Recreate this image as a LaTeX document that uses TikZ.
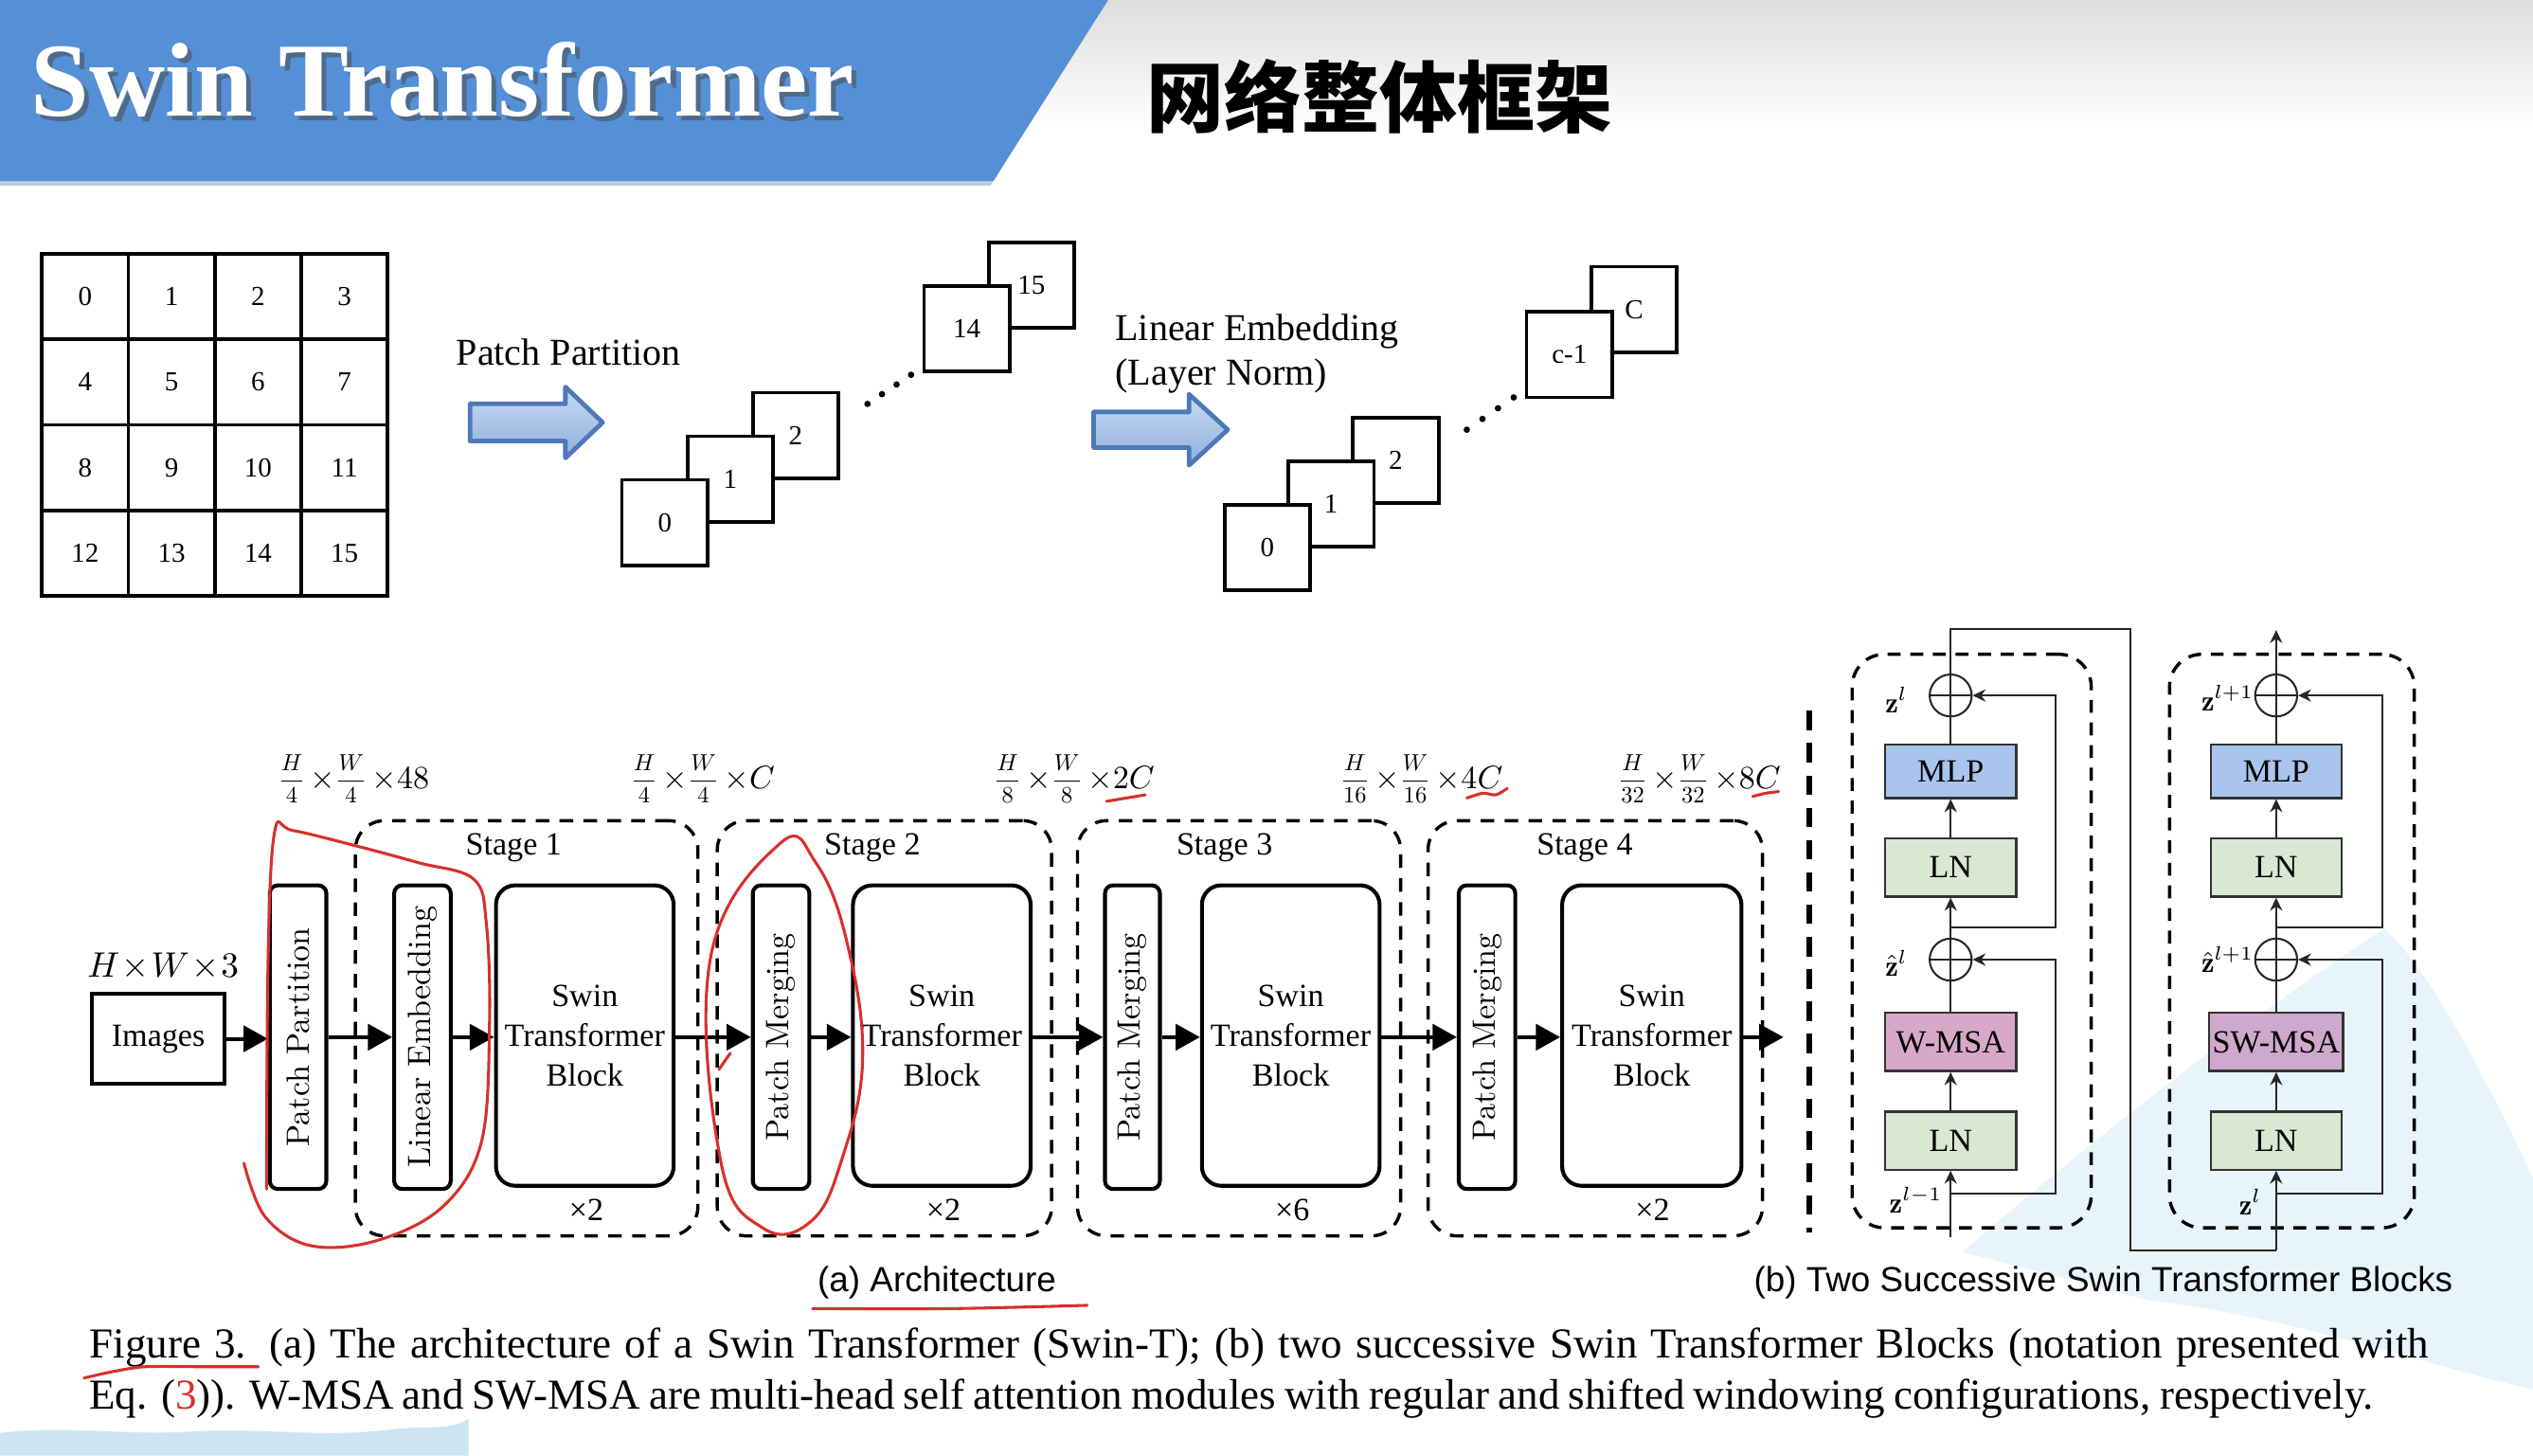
\documentclass[tikz,border=0pt]{standalone}
\usepackage{fontspec}
\newfontfamily\tnr{Liberation Serif}
\newfontfamily\arl{Liberation Sans}
\newfontfamily\cjk{Noto Sans CJK SC}
\usetikzlibrary{arrows.meta}
\newcommand\myfr[2]{\raisebox{0.6pt}{\scalebox{0.72}{$\displaystyle\frac{#1}{#2}$}}}
\definecolor{banner}{HTML}{5590D6}
\definecolor{arrowtop}{HTML}{C9DAF1}
\definecolor{arrowbot}{HTML}{8FB0DD}
\definecolor{arrowborder}{HTML}{4E79B8}
\definecolor{mlpc}{HTML}{A9C5EE}
\definecolor{lnc}{HTML}{D8E8D3}
\definecolor{msac}{HTML}{D7A8CA}
\definecolor{smsac}{HTML}{CFA8CD}
\definecolor{penred}{HTML}{D8302B}
\definecolor{skyc}{HTML}{E8F4FC}
\definecolor{skyd}{HTML}{CDE5F2}
\begin{document}
\begin{tikzpicture}[x=0.5pt,y=-0.5pt,
  gridcell/.style={draw, line width=1.1pt, minimum width=26.75pt, minimum height=26.5pt, inner sep=0pt, font=\tnr\fontsize{8.5}{10}\selectfont},
  patch/.style={draw, fill=white, line width=1.1pt, minimum width=26.5pt, minimum height=26.5pt, inner sep=0pt, font=\tnr\fontsize{8.5}{10}\selectfont},
  bigarrow/.style={draw=arrowborder, line width=1.4pt, top color=arrowtop, bottom color=arrowbot, line join=round},
  lbl/.style={inner sep=0pt, font=\tnr\fontsize{11.75}{14}\selectfont},
  vbox/.style={draw, line width=1.2pt, rounded corners=2.5pt, minimum width=17.5pt, minimum height=94pt, inner sep=0pt, font=\fontsize{10}{12}\selectfont},
  stb/.style={draw, line width=1.2pt, rounded corners=6pt, minimum width=55pt, minimum height=93pt, inner sep=0pt, align=center, font=\tnr\fontsize{10}{12.25}\selectfont},
  stage/.style={draw, dash pattern=on 4.2pt off 3.2pt, line width=1pt, rounded corners=9pt, minimum height=128.5pt, inner sep=0pt},
  txt/.style={inner sep=0pt, font=\tnr\fontsize{10}{12}\selectfont},
  dim/.style={inner sep=0pt, font=\fontsize{10}{12}\selectfont},
  flow/.style={line width=1.2pt, -{Triangle[length=7.5pt,width=8pt]}},
  bl/.style={draw=black!80, line width=0.7pt, minimum width=40.5pt, minimum height=18pt, inner sep=0pt, font=\tnr\fontsize{10}{12}\selectfont},
  ocirc/.style={circle, draw=black!85, line width=0.6pt, minimum size=13pt, inner sep=0pt},
  thinl/.style={line width=0.6pt, draw=black!85},
  tarrow/.style={-{Stealth[length=4pt,width=3.8pt]}},
  bdash/.style={draw, dash pattern=on 4pt off 3pt, line width=1pt, rounded corners=10pt, minimum height=177.5pt, inner sep=0pt},
  zl/.style={inner sep=0pt, font=\fontsize{9}{11}\selectfont},
  redpen/.style={draw=penred, line width=0.9pt, line cap=round, line join=round}
]
\useasboundingbox (0,0) rectangle (1568,901);
\fill[white] (0,0) rectangle (1568,901);
% background decorations
\fill[top color=black!13, bottom color=white] (0,0) rectangle (1568,80);
\fill[skyc] (1215,775) .. controls (1300,700) and (1420,610) .. (1476,575)
  .. controls (1505,600) and (1545,680) .. (1568,729) -- (1568,860)
  .. controls (1500,845) and (1420,815) .. (1330,805) -- cycle;
\fill[skyd] (0,887) .. controls (40,882) and (80,889) .. (120,886)
  .. controls (170,884) and (200,890) .. (240,885) .. controls (265,882) and (280,886) .. (290,878)
  -- (290,901) -- (0,901) -- cycle;
% title banner
\fill[banner] (0,0) -- (686,0) -- (615,112) -- (0,112) -- cycle;
\fill[banner!75!black, opacity=0.35] (0,112) -- (615,112) -- (613,115) -- (0,115) -- cycle;
\node[anchor=base, inner sep=0pt, text=black!70, opacity=0.55, font=\tnr\bfseries\fontsize{32.5}{39}\selectfont] (titleshadow) at (277,75) {Swin Transformer};
\node[anchor=base, inner sep=0pt, text=white, font=\tnr\bfseries\fontsize{32.5}{39}\selectfont] (title) at (274,72) {Swin Transformer};
\node[inner sep=0pt, font=\cjk\bfseries\fontsize{24}{28}\selectfont] (cntitle) at (854,60) {网络整体框架};

% grid 4x4
\foreach \r in {0,1,2,3}{
  \foreach \c in {0,1,2,3}{
    \pgfmathtruncatemacro{\n}{4*\r+\c}
    \node[gridcell] (g\n) at ({26+53.5*(\c+0.5)},{157+53*(\r+0.5)}) {\n};
  }
}
% patch partition arrow
\node[lbl] (pplabel) at (352,218) {Patch Partition};
\draw[bigarrow] (291,250) -- (350,250) -- (350,239.5) -- (373,261.5) -- (350,283.5) -- (350,273) -- (291,273) -- cycle;
% stack 1
\node[patch] (s1b2) at (492.5,269.5) {2};
\node[patch] (s1b1) at (452,296.5) {1};
\node[patch] (s1b0) at (411.5,323.5) {0};
\node[patch] (s1b15) at (638.5,176.5) {15};
\node[patch] (s1b14) at (598.5,203.5) {14};
\foreach \p in {(537,250),(546,244),(555,238),(564,232)} \fill \p circle[radius=1pt];
% linear embedding arrow
\node[lbl, anchor=west] (lelabel) at (690,205) {Linear Embedding};
\node[lbl, anchor=west] (lnlabel) at (690,233) {(Layer Norm)};
\draw[bigarrow] (677,255) -- (736,255) -- (736,244) -- (760,266) -- (736,288) -- (736,277) -- (677,277) -- cycle;
% stack 2
\node[patch] (s2b2) at (864,285) {2};
\node[patch] (s2b1) at (824,312) {1};
\node[patch] (s2b0) at (784.5,339) {0};
\node[patch] (s2bC) at (1011.5,191.5) {C};
\node[patch] (s2bc) at (971.5,219.5) {c-1};
\foreach \p in {(908,266),(917.7,259.3),(927.3,252.7),(937,246)} \fill \p circle[radius=1pt];

% ---------- (a) architecture ----------
\node[stage, minimum width=106pt] (st1) at (326,636.5) {};
\node[stage, minimum width=103.5pt] (st2) at (547.5,636.5) {};
\node[stage, minimum width=100pt] (st3) at (767,636.5) {};
\node[stage, minimum width=103.5pt] (st4) at (987.5,636.5) {};
\node[txt] (st1l) at (318,525) {Stage 1};
\node[txt] (st2l) at (540,525) {Stage 2};
\node[txt] (st3l) at (758,525) {Stage 3};
\node[txt] (st4l) at (981,525) {Stage 4};
\node[txt] (x1) at (363,749) {×2};
\node[txt] (x2) at (584,749) {×2};
\node[txt] (x3) at (800,749) {×6};
\node[txt] (x4) at (1023,749) {×2};

\node[dim] (d1) at (219,482) {\myfr{H}{4}$\,\times$\myfr{W}{4}$\,{\times}48$};
\node[dim] (d2) at (435,482) {\myfr{H}{4}$\,\times$\myfr{W}{4}$\,{\times}C$};
\node[dim] (d3) at (665,482) {\myfr{H}{8}$\,\times$\myfr{W}{8}$\,{\times}2C$};
\node[dim] (d4) at (880,482) {\myfr{H}{16}$\,\times$\myfr{W}{16}$\,{\times}4C$};
\node[dim] (d5) at (1052,482) {\myfr{H}{32}$\,\times$\myfr{W}{32}$\,{\times}8C$};

\node[inner sep=0pt, font=\fontsize{10.5}{12}\selectfont] (hw3) at (101,598) {$H\!\times\! W\!\times\! 3$};
\node[draw, line width=1.2pt, minimum width=41pt, minimum height=28pt, inner sep=0pt, font=\tnr\fontsize{10}{12}\selectfont] (img) at (98,643) {Images};
\node[vbox] (pp) at (184.5,642) {\rotatebox{90}{Patch Partition}};
\node[vbox] (le) at (261.5,642) {\rotatebox{90}{Linear Embedding}};
\node[stb] (stb1) at (362,641) {Swin\\Transformer\\Block};
\node[vbox] (pm2) at (483.5,642) {\rotatebox{90}{Patch Merging}};
\node[stb] (stb2) at (583,641) {Swin\\Transformer\\Block};
\node[vbox, minimum width=17pt] (pm3) at (701,642) {\rotatebox{90}{Patch Merging}};
\node[stb] (stb3) at (799,641) {Swin\\Transformer\\Block};
\node[vbox] (pm4) at (920.5,642) {\rotatebox{90}{Patch Merging}};
\node[stb, minimum width=55.5pt] (stb4) at (1022.5,641) {Swin\\Transformer\\Block};
\coordinate (out) at (1104,642);

\draw[flow] (img.east) -- (pp.west |- img.east);
\draw[flow] (pp.east) -- (le.west);
\draw[flow] (le.east) -- (stb1.west |- le.east);
\draw[flow] (stb1.east |- pm2.west) -- (pm2.west);
\draw[flow] (pm2.east) -- (stb2.west |- pm2.east);
\draw[flow] (stb2.east |- pm3.west) -- (pm3.west);
\draw[flow] (pm3.east) -- (stb3.west |- pm3.east);
\draw[flow] (stb3.east |- pm4.west) -- (pm4.west);
\draw[flow] (pm4.east) -- (stb4.west |- pm4.east);
\draw[flow] (stb4.east |- out) -- (out);

% separator
\coordinate (sepT) at (1120,440);
\coordinate (sepB) at (1120,763);
\draw[line width=1.8pt, dash pattern=on 6pt off 4pt] (sepT) -- (sepB);

% ---------- (b) two blocks ----------
\node[bdash, minimum width=74pt] (blk1) at (1220.5,582.5) {};
\node[bdash, minimum width=75.75pt] (blk2) at (1418.75,582.5) {};

\node[bl, fill=mlpc, minimum height=16.5pt] (mlp1) at (1207.5,477.5) {MLP};
\node[bl, fill=lnc] (ln1t) at (1207.5,537) {LN};
\node[bl, fill=msac] (wmsa) at (1207.5,645) {W-MSA};
\node[bl, fill=lnc] (ln1b) at (1207.5,706) {LN};
\node[ocirc] (o1t) at (1207.5,430.5) {};
\node[ocirc] (o1b) at (1207.5,594) {};

\node[bl, fill=mlpc, minimum height=16.5pt] (mlp2) at (1409,477.5) {MLP};
\node[bl, fill=lnc] (ln2t) at (1409,537) {LN};
\node[bl, fill=smsac, minimum width=41.5pt] (swmsa) at (1409,645) {SW-MSA};
\node[bl, fill=lnc] (ln2b) at (1409,706) {LN};
\node[ocirc] (o2t) at (1409,430.5) {};
\node[ocirc] (o2b) at (1409,594) {};

\coordinate (in1) at (1207.5,766);
\coordinate (b1a) at (1207.5,739);
\coordinate (b1b) at (1207.5,574);
\coordinate (r1a) at (1272.5,739);
\coordinate (r1b) at (1272.5,574);
\coordinate (top1) at (1207.5,389.5);
\coordinate (loopR) at (1319,389.5);
\coordinate (loopB) at (1319,774);
\coordinate (in2) at (1409,774);
\coordinate (b2a) at (1409,739);
\coordinate (b2b) at (1409,574);
\coordinate (r2a) at (1474.5,739);
\coordinate (r2b) at (1474.5,574);
\coordinate (top2) at (1409,390);

% block 1 wiring
\draw[thinl, tarrow] (in1) -- (ln1b.south);
\draw[thinl, tarrow] (ln1b.north) -- (wmsa.south);
\draw[thinl] (wmsa.north) -- (o1b.south) -- (o1b.north);
\draw[thinl] (o1b.west) -- (o1b.east);
\draw[thinl, tarrow] (o1b.north) -- (ln1t.south);
\draw[thinl, tarrow] (b1a) -- (r1a) -- (r1a |- o1b.east) -- (o1b.east);
\draw[thinl, tarrow] (b1b) -- (r1b) -- (r1b |- o1t.east) -- (o1t.east);
\draw[thinl, tarrow] (ln1t.north) -- (mlp1.south);
\draw[thinl] (mlp1.north) -- (o1t.south) -- (o1t.north);
\draw[thinl] (o1t.west) -- (o1t.east);
\draw[thinl] (o1t.north) -- (top1) -- (loopR) -- (loopB) -- (in2);
% block 2 wiring
\draw[thinl, tarrow] (in2) -- (ln2b.south);
\draw[thinl, tarrow] (ln2b.north) -- (swmsa.south);
\draw[thinl] (swmsa.north) -- (o2b.south) -- (o2b.north);
\draw[thinl] (o2b.west) -- (o2b.east);
\draw[thinl, tarrow] (o2b.north) -- (ln2t.south);
\draw[thinl, tarrow] (b2a) -- (r2a) -- (r2a |- o2b.east) -- (o2b.east);
\draw[thinl, tarrow] (b2b) -- (r2b) -- (r2b |- o2t.east) -- (o2t.east);
\draw[thinl, tarrow] (ln2t.north) -- (mlp2.south);
\draw[thinl] (mlp2.north) -- (o2t.south) -- (o2t.north);
\draw[thinl] (o2t.west) -- (o2t.east);
\draw[thinl, tarrow] (o2t.north) -- (top2);

\node[zl] (z1t) at (1174,433) {$\mathbf{z}^{l}$};
\node[zl] (z1b) at (1174,596) {$\hat{\mathbf{z}}^{l}$};
\node[zl] (z1i) at (1186,743) {$\mathbf{z}^{l-1}$};
\node[zl] (z2t) at (1379,432) {$\mathbf{z}^{l+1}$};
\node[zl] (z2b) at (1379,594) {$\hat{\mathbf{z}}^{l+1}$};
\node[zl] (z2i) at (1393,744) {$\mathbf{z}^{l}$};

% captions
\node[inner sep=0pt, font=\arl\fontsize{10.8}{13}\selectfont] (capa) at (580,794) {(a) Architecture};
\node[inner sep=0pt, font=\arl\fontsize{10.8}{13}\selectfont] (capb) at (1302,794) {(b) Two Successive Swin Transformer Blocks};
\node[anchor=west, inner sep=0pt, font=\tnr\fontsize{13.2}{15}\selectfont] (cap1) at (55,834)
  {\makebox[724pt][s]{Figure 3. (a) The architecture of a Swin Transformer (Swin-T); (b) two successive Swin Transformer Blocks (notation presented with}};
\node[anchor=west, inner sep=0pt, font=\tnr\fontsize{13.2}{15}\selectfont] (cap2) at (55,866)
  {\makebox[707pt][s]{Eq. (\textcolor{penred}{3})). W-MSA and SW-MSA are multi-head self attention modules with regular and shifted windowing configurations, respectively.}};

% red hand annotations
\draw[redpen] plot[smooth, tension=0.6] coordinates {(151,720) (164,753) (192,771) (233,768) (274,747) (298,707) (303,634) (301,571) (293,544) (259,534) (222,524) (181,514) (170,515) (166,592) (165,736)};
\draw[redpen] plot[smooth cycle, tension=0.7] coordinates {(483,522) (505,534) (524,582) (534,655) (521,718) (502,756) (472,760) (446,718) (440,592)};
\draw[redpen] (445,662) -- (452,652);
\draw[redpen] plot[smooth] coordinates {(685,496) (697,494) (709,492)};
\draw[redpen] plot[smooth] coordinates {(908,494) (918,491) (926,492) (933,488)};
\draw[redpen] plot[smooth] coordinates {(1085,493) (1093,491) (1101,490)};
\draw[redpen] plot[smooth] coordinates {(503,810) (590,810) (673,808)};
\draw[redpen] plot[smooth] coordinates {(52,853) (70,849) (90,846) (125,846) (160,846)};
\end{tikzpicture}
\end{document}
